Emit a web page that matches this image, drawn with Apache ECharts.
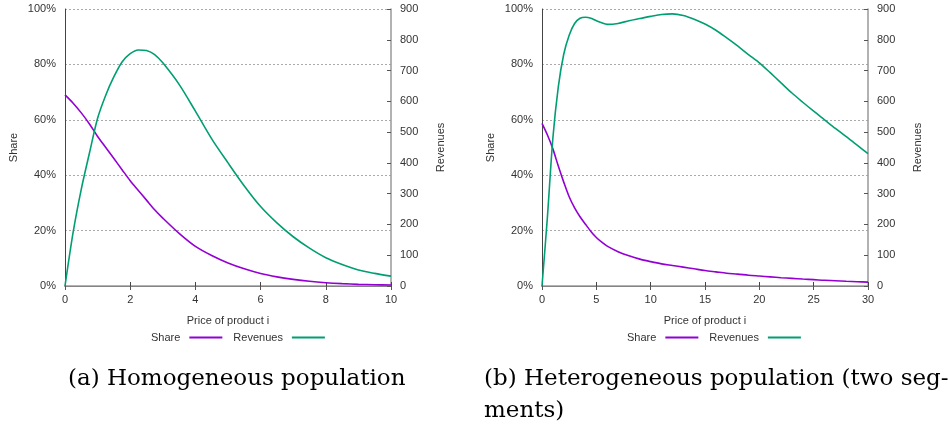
<!DOCTYPE html>
<html>
<head>
<meta charset="utf-8">
<script src="https://cdn.jsdelivr.net/npm/echarts@6/dist/echarts.min.js"></script>
<style>
  html, body { margin: 0; padding: 0; background: #fff; }
  #chart { width: 948px; height: 433px; }
</style>
</head>
<body>
<div id="chart"></div>
<script>
// (a) homogeneous population
var pricesA = [0, 0.25, 0.5, 0.75, 1, 1.25, 1.5, 1.75, 2, 2.25, 2.5, 2.75, 3, 3.5, 4, 4.5, 5, 5.5, 6, 6.5, 7, 7.5, 8, 8.5, 9, 9.5, 10];
var shareA = [69, 66, 62.5, 58.5, 54, 50, 46, 42, 38, 34.5, 31, 27.5, 24.5, 19, 14.3, 11, 8.3, 6.2, 4.5, 3.3, 2.4, 1.7, 1.2, 0.85, 0.6, 0.45, 0.35];
var revenueA = [0, 175, 315, 432, 545, 620, 680, 728, 755, 767, 765, 752, 725, 655, 568, 478, 400, 325, 258, 205, 160, 123, 92, 70, 52, 41, 32];

// (b) heterogeneous population
var pricesB = [0, 0.5, 1, 1.5, 2, 2.5, 3, 3.5, 4, 4.5, 5, 5.5, 6, 7, 8, 9, 10, 11, 12, 13, 14, 15, 16, 17, 18, 19, 20, 21, 22, 23, 24, 25, 26, 27, 28, 29, 30];
var shareB = [58.7, 54.5, 49.5, 43.3, 37.5, 32.2, 28.2, 25, 22.3, 19.7, 17.5, 15.8, 14.4, 12.4, 10.9, 9.7, 8.8, 8.0, 7.4, 6.8, 6.2, 5.6, 5.1, 4.6, 4.3, 3.9, 3.6, 3.3, 3.0, 2.75, 2.5, 2.3, 2.05, 1.9, 1.7, 1.55, 1.4];
var revenueB = [0, 225, 480, 647, 753, 815, 853, 870, 873, 870, 862, 855, 850, 853, 862, 869, 876, 882, 884, 879, 867, 851, 831, 806, 780, 752, 725, 693, 660, 627, 597, 568, 540, 512, 485, 458, 430];

var shareTicks = [0, 100, 20];
var revenueTicks = [0, 900, 100];
var priceTicksA = [0, 10, 2];
var priceTicksB = [0, 30, 5];

var purple = '#9400d3';
var green = '#009e73';
var font = 'Liberation Sans';
var captionFont = '23px "DejaVu Serif"';

var pairs = function (xs, ys) {
  return xs.map(function (x, i) { return [x, ys[i]]; });
};

var chart = echarts.init(document.getElementById('chart'));

var bottomAxis = function (gridIndex, ticks) {
  return {
    type: 'value', gridIndex: gridIndex, position: 'bottom',
    min: ticks[0], max: ticks[1], interval: ticks[2],
    name: 'Price of product i', nameLocation: 'middle', nameGap: 29,
    nameTextStyle: { fontFamily: font, fontSize: 11, color: '#333' },
    axisLine: { lineStyle: { color: '#444', width: 1 } },
    axisTick: { inside: true, length: 4, lineStyle: { color: '#444' } },
    axisLabel: { fontFamily: font, fontSize: 11, color: '#333', margin: 8 },
    splitLine: { show: false }
  };
};
var topAxis = function (gridIndex, ticks) {
  return {
    type: 'value', gridIndex: gridIndex, position: 'top',
    min: ticks[0], max: ticks[1], interval: ticks[2],
    axisLine: { lineStyle: { color: '#999', width: 1.5 } },
    axisTick: { inside: true, length: 4, lineStyle: { color: '#555' } },
    axisLabel: { show: false },
    splitLine: { show: false }
  };
};
var shareAxis = function (gridIndex) {
  return {
    type: 'value', gridIndex: gridIndex, position: 'left',
    min: shareTicks[0], max: shareTicks[1], interval: shareTicks[2],
    name: 'Share', nameLocation: 'middle', nameGap: 46, nameRotate: 90,
    nameTextStyle: { fontFamily: font, fontSize: 11, color: '#333' },
    axisLine: { show: true, lineStyle: { color: '#444', width: 1 } },
    axisTick: { show: false },
    axisLabel: { fontFamily: font, fontSize: 11, color: '#333', margin: 9, formatter: '{value}%' },
    splitLine: { show: true, lineStyle: { color: '#aaa', type: [2, 2], width: 1 } }
  };
};
var revenueAxis = function (gridIndex) {
  return {
    type: 'value', gridIndex: gridIndex, position: 'right', offset: 0,
    min: revenueTicks[0], max: revenueTicks[1], interval: revenueTicks[2],
    name: 'Revenues', nameLocation: 'middle', nameGap: 44, nameRotate: 90,
    nameTextStyle: { fontFamily: font, fontSize: 11, color: '#333' },
    axisLine: { show: true, onZero: false, lineStyle: { color: '#999', width: 1.5 } },
    axisTick: { show: true, inside: true, length: 4, lineStyle: { color: '#555' } },
    axisLabel: { fontFamily: font, fontSize: 11, color: '#333', margin: 9 },
    splitLine: { show: false }
  };
};
var lineSeries = function (name, color, xAxisIndex, yAxisIndex, data) {
  return {
    name: name, type: 'line', xAxisIndex: xAxisIndex, yAxisIndex: yAxisIndex,
    data: data, smooth: 0.3, symbol: 'none', animation: false,
    lineStyle: { color: color, width: 1.6 }, itemStyle: { color: color }
  };
};
var legendAt = function (left) {
  return {
    left: left, top: 327, orient: 'horizontal', align: 'right',
    icon: 'rect', itemWidth: 33, itemHeight: 2, itemGap: 11,
    textStyle: { fontFamily: font, fontSize: 11, color: '#333', padding: [0, 4, 0, 0] },
    selectedMode: false,
    data: ['Share', 'Revenues']
  };
};

var option = {
  backgroundColor: '#fff',
  animation: false,
  grid: [
    { left: 65, right: 557, top: 9, height: 277 },
    { left: 542, right: 80, top: 9, height: 277 }
  ],
  xAxis: [
    bottomAxis(0, priceTicksA), topAxis(0, priceTicksA),
    bottomAxis(1, priceTicksB), topAxis(1, priceTicksB)
  ],
  yAxis: [
    shareAxis(0), revenueAxis(0),
    shareAxis(1), revenueAxis(1)
  ],
  legend: [legendAt(146), legendAt(622)],
  series: [
    lineSeries('Share', purple, 0, 0, pairs(pricesA, shareA)),
    lineSeries('Revenues', green, 0, 1, pairs(pricesA, revenueA)),
    lineSeries('Share', purple, 2, 2, pairs(pricesB, shareB)),
    lineSeries('Revenues', green, 2, 3, pairs(pricesB, revenueB))
  ],
  graphic: [
    { type: 'text', left: 68, top: 368, style: { text: '(a) Homogeneous population', font: captionFont, fill: '#000' } },
    { type: 'text', left: 484, top: 368, style: { text: '(b) Heterogeneous population (two seg-', font: captionFont, fill: '#000' } },
    { type: 'text', left: 484, top: 400, style: { text: 'ments)', font: captionFont, fill: '#000' } }
  ]
};

chart.setOption(option);
</script>
</body>
</html>
